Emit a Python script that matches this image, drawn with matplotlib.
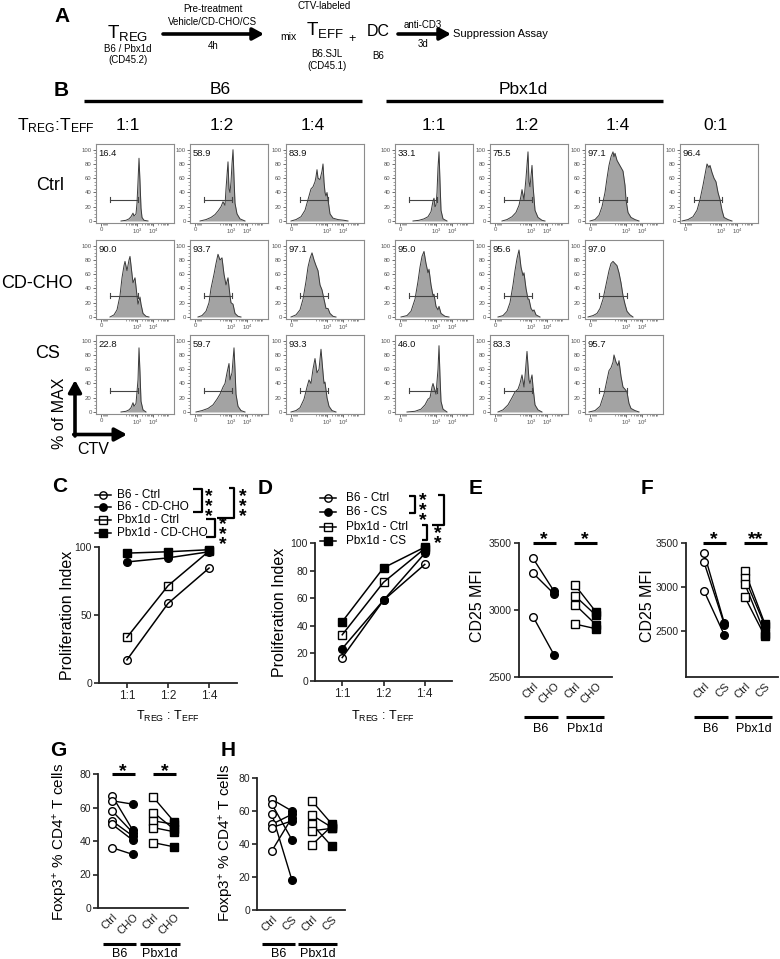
import numpy as np
import matplotlib
matplotlib.use('Agg')
import matplotlib.pyplot as plt

plt.rcParams['font.family'] = ['Liberation Sans', 'DejaVu Sans']
plt.rcParams['mathtext.fontset'] = 'custom'
plt.rcParams['mathtext.rm'] = 'Liberation Sans'
plt.rcParams['mathtext.it'] = 'Liberation Sans:italic'
plt.rcParams['mathtext.bf'] = 'Liberation Sans:bold'
plt.rcParams['mathtext.default'] = 'regular'

# ---------------- DATA ----------------
# Panel B: CTV histograms, points (channel position, % of max)
ratios_b6 = ['1:1', '1:2', '1:4']
ratios_pbx = ['1:1', '1:2', '1:4', '0:1']
treatments = ['Ctrl', 'CD-CHO', 'CS']
pct_b6_ctrl = [16.4, 58.9, 83.9]
pct_b6_cho = [90.0, 93.7, 97.1]
pct_b6_cs = [22.8, 59.7, 93.3]
pct_pbx_ctrl = [33.1, 75.5, 97.1, 96.4]
pct_pbx_cho = [95.0, 95.6, 97.0]
pct_pbx_cs = [46.0, 83.3, 95.7]
gate_range = [14, 42]
gate_level = 30

hist_b6_ctrl_11 = [(25,0),(30,1),(33,3),(35,6),(37,11),(38,7),(40,10),(41,25),(42,55),(43,88),(44,55),(45,18),(46,5),(48,1),(52,0)]
hist_b6_ctrl_12 = [(10,0),(16,2),(21,5),(25,9),(28,14),(31,20),(33,27),(35,22),(36,45),(38,83),(39,45),(40,40),(41,55),(42,80),(43,100),(44,60),(45,25),(47,10),(50,3),(55,0)]
hist_b6_ctrl_14 = [(5,0),(10,2),(15,6),(19,15),(22,30),(25,45),(27,48),(29,55),(30,62),(31,72),(32,60),(34,58),(36,70),(37,80),(38,55),(39,40),(40,35),(41,40),(42,30),(44,10),(47,4),(52,2),(58,1),(62,0)]
hist_pbx_ctrl_11 = [(18,0),(24,1),(29,3),(33,6),(36,13),(38,28),(39,32),(40,20),(41,22),(42,40),(43,75),(44,97),(45,55),(46,15),(48,3),(52,0)]
hist_pbx_ctrl_12 = [(12,0),(17,2),(22,6),(26,12),(29,22),(31,35),(32,44),(34,30),(36,60),(38,97),(39,55),(40,48),(42,78),(43,50),(45,15),(48,5),(52,1),(55,0)]
hist_pbx_ctrl_14 = [(5,0),(10,2),(14,8),(17,20),(20,40),(22,60),(24,78),(26,90),(28,97),(29,90),(30,95),(32,85),(34,80),(36,75),(38,70),(40,50),(41,30),(43,12),(46,5),(50,2),(54,0)]
hist_pbx_ctrl_01 = [(2,0),(8,2),(13,6),(17,15),(20,30),(23,50),(25,65),(27,80),(29,75),(30,78),(32,68),(34,60),(36,55),(38,40),(40,30),(42,15),(44,5),(48,2),(52,0)]

hist_b6_cho_11 = [(14,0),(18,3),(21,10),(24,30),(26,55),(28,72),(29,78),(31,65),(33,80),(34,85),(36,60),(37,48),(39,55),(41,30),(42,18),(44,28),(45,18),(47,5),(50,1),(53,0)]
hist_b6_cho_12 = [(8,0),(12,2),(16,8),(19,20),(21,40),(24,60),(26,75),(28,88),(30,80),(32,83),(34,60),(36,45),(38,55),(40,30),(41,20),(43,18),(45,5),(48,1),(51,0)]
hist_b6_cho_14 = [(5,0),(10,3),(14,10),(17,25),(20,50),(22,70),(24,82),(26,90),(28,80),(30,72),(32,65),(34,45),(36,38),(38,25),(40,12),(42,12),(44,5),(47,1),(50,0)]
hist_pbx_cho_11 = [(6,0),(12,2),(16,8),(20,25),(23,50),(25,70),(27,85),(29,92),(31,75),(33,62),(34,67),(36,45),(38,30),(39,32),(41,15),(43,10),(44,15),(46,5),(50,1),(54,0)]
hist_pbx_cho_12 = [(8,0),(13,2),(17,8),(20,20),(23,45),(25,65),(27,82),(29,94),(31,70),(33,58),(34,62),(36,40),(38,25),(39,25),(41,12),(43,8),(44,10),(46,3),(50,0)]
hist_pbx_cho_14 = [(3,0),(8,2),(12,5),(15,12),(18,25),(21,45),(24,65),(26,75),(28,78),(30,75),(32,72),(34,62),(36,48),(38,30),(40,18),(42,8),(45,3),(48,0)]

hist_b6_cs_11 = [(25,0),(30,1),(33,3),(35,6),(37,13),(38,8),(40,12),(42,45),(43,90),(44,55),(45,15),(47,3),(50,0)]
hist_b6_cs_12 = [(6,0),(12,2),(18,5),(23,10),(27,18),(30,25),(33,35),(35,40),(37,55),(39,68),(40,45),(42,55),(44,90),(45,60),(46,25),(48,8),(51,2),(55,0)]
hist_b6_cs_14 = [(5,0),(10,2),(14,6),(18,18),(21,35),(23,45),(25,40),(27,60),(29,75),(31,55),(33,60),(35,88),(37,55),(38,40),(39,42),(41,20),(43,8),(46,2),(50,0)]
hist_pbx_cs_11 = [(12,0),(20,1),(26,4),(30,10),(33,18),(35,20),(37,35),(38,40),(40,30),(41,25),(43,60),(44,93),(45,50),(46,15),(48,4),(52,0)]
hist_pbx_cs_12 = [(8,0),(13,3),(18,10),(22,20),(25,28),(28,32),(30,40),(32,52),(34,35),(35,50),(37,85),(39,45),(40,40),(42,52),(43,35),(45,10),(48,3),(52,0)]
hist_pbx_cs_14 = [(4,0),(10,2),(15,8),(19,25),(22,45),(24,58),(26,62),(28,70),(29,80),(31,70),(33,65),(34,72),(36,50),(38,35),(40,32),(42,28),(44,12),(46,5),(50,2),(54,0)]

# Panels C / D: proliferation index
ratio_labels = ['1:1', '1:2', '1:4']
c_b6_ctrl = [17, 58.5, 84.5]
c_b6_cho = [89, 92, 96.5]
c_pbx_ctrl = [33.5, 71.5, 97]
c_pbx_cho = [95.5, 96.5, 98]
legend_c = ['B6 - Ctrl', 'B6 - CD-CHO', 'Pbx1d - Ctrl', 'Pbx1d - CD-CHO']
d_b6_ctrl = [17, 58.5, 84.5]
d_b6_cs = [23.5, 58.5, 92.5]
d_pbx_ctrl = [33.5, 71.5, 96]
d_pbx_cs = [43, 82, 97]
legend_d = ['B6 - Ctrl', 'B6 - CS', 'Pbx1d - Ctrl', 'Pbx1d - CS']

# Panels E / F: CD25 MFI (paired)
e_b6_ctrl = [3385, 3275, 2950]
e_b6_cho = [3140, 3120, 2665]
e_pbx_ctrl = [3185, 3105, 3040, 2895]
e_pbx_cho = [2985, 2960, 2890, 2860]
f_b6_ctrl = [3385, 3280, 2955]
f_b6_cs = [2590, 2575, 2455]
f_pbx_ctrl = [3185, 3105, 3040, 2890]
f_pbx_cs = [2580, 2560, 2470, 2440]

# Panels G / H: Foxp3+ % CD4+ T cells (paired)
g_b6_ctrl = [67, 64, 58, 52, 50, 36]
g_b6_cho = [46.5, 62, 45, 43, 40.5, 32]
g_pbx_ctrl = [66, 57, 52, 48, 39]
g_pbx_cho = [51.5, 47, 50, 45.5, 36.5]
h_b6_ctrl = [67, 64, 58, 52, 50, 36]
h_b6_cs = [60, 42.5, 18, 58, 54, 56]
h_pbx_ctrl = [66, 57.5, 52, 48, 39.5]
h_pbx_cs = [52, 50, 38.5, 49.5, 51]

groups = ['B6', 'Pbx1d']
cats_cho = ['Ctrl', 'CHO', 'Ctrl', 'CHO']
cats_cs = ['Ctrl', 'CS', 'Ctrl', 'CS']

# ---------------- FIGURE ----------------
W, H = 780, 959
fig = plt.figure(figsize=(W / 100, H / 100), dpi=100)


def px_axes(x0, y0, x1, y1):
    return fig.add_axes([x0 / W, 1 - y1 / H, (x1 - x0) / W, (y1 - y0) / H])


# ---- Panel B histograms ----
HW, HH = 78, 79
hist_left_b6 = [96, 190, 286]
hist_left_pbx = [395, 490, 585, 680]
row_top = [144, 240, 335]
minor_x = ([6.5, 7.5, 8.5, 9.5, 10.5] + [41 - 16 * (1 - np.log10(k)) for k in range(2, 10)]
           + [41 + 16 * np.log10(k) for k in range(2, 10)] + [57 + 16 * np.log10(k) for k in range(2, 10)])


def draw_hist(x0, y0, pts, pct):
    ax = px_axes(x0, y0, x0 + HW, y0 + HH)
    xs = [p[0] for p in pts]
    ys = [p[1] for p in pts]
    ax.fill_between(xs, ys, 0, color='#a3a3a3', lw=0, zorder=1)
    ax.plot(xs, ys, color='#3a3a3a', lw=0.7, zorder=2)
    ax.set_xlim(0, HW)
    ax.set_ylim(-2.8, 108)
    ax.plot(gate_range, [gate_level, gate_level], color='#444', lw=0.8, zorder=3)
    for gx in gate_range:
        ax.plot([gx, gx], [gate_level - 3.5, gate_level + 3.5], color='#444', lw=0.8, zorder=3)
    ax.text(2.5, 94, f'{pct:.1f}', fontsize=6.8, ha='left', va='center', color='#111')
    for s in ax.spines.values():
        s.set_color('#8c8c8c')
        s.set_linewidth(0.8)
    ax.set_yticks([0, 20, 40, 60, 80, 100])
    ax.set_yticks(np.arange(0, 101, 5), minor=True)
    ax.set_xticks([5, 41, 57])
    ax.set_xticklabels(['0', '$10^3$', '$10^4$'])
    ax.set_xticks(minor_x, minor=True)
    ax.tick_params(which='major', length=2, width=0.6, color='#555', labelsize=4.3,
                   labelcolor='#555', pad=1)
    ax.tick_params(which='minor', length=1.2, width=0.4, color='#555')
    return ax


b6_rows = [(hist_b6_ctrl_11, hist_b6_ctrl_12, hist_b6_ctrl_14),
           (hist_b6_cho_11, hist_b6_cho_12, hist_b6_cho_14),
           (hist_b6_cs_11, hist_b6_cs_12, hist_b6_cs_14)]
b6_pcts = [pct_b6_ctrl, pct_b6_cho, pct_b6_cs]
pbx_rows = [(hist_pbx_ctrl_11, hist_pbx_ctrl_12, hist_pbx_ctrl_14, hist_pbx_ctrl_01),
            (hist_pbx_cho_11, hist_pbx_cho_12, hist_pbx_cho_14),
            (hist_pbx_cs_11, hist_pbx_cs_12, hist_pbx_cs_14)]
pbx_pcts = [pct_pbx_ctrl, pct_pbx_cho, pct_pbx_cs]

for r in range(3):
    for c, pts in enumerate(b6_rows[r]):
        draw_hist(hist_left_b6[c], row_top[r], pts, b6_pcts[r][c])
    for c, pts in enumerate(pbx_rows[r]):
        draw_hist(hist_left_pbx[c], row_top[r], pts, pbx_pcts[r][c])

SPC = '#222222'


def style(ax):
    for s in ['top', 'right']:
        ax.spines[s].set_visible(False)
    for s in ['left', 'bottom']:
        ax.spines[s].set_linewidth(1.3)
        ax.spines[s].set_color(SPC)
    ax.tick_params(width=1.2, length=3.5, color=SPC, labelsize=7.5, pad=1.5, labelcolor='#222')
    ax.patch.set_visible(False)


# ---- Panel C ----
x3 = np.arange(3)
axC = px_axes(99, 547, 237, 683)
style(axC)
kw = dict(color='k', lw=1.1, mew=1.0, mec='k', clip_on=False)
axC.plot(x3, c_b6_ctrl, marker='o', mfc='none', ms=5.5, **kw)
axC.plot(x3, c_b6_cho, marker='o', mfc='k', ms=5.5, **kw)
axC.plot(x3, c_pbx_ctrl, marker='s', mfc='none', ms=5.2, **kw)
axC.plot(x3, c_pbx_cho, marker='s', mfc='k', ms=5.2, **kw)
axC.set_xlim(-0.68, 2.68)
axC.set_ylim(0, 100)
axC.set_yticks([0, 50, 100])
axC.set_xticks(x3)
axC.set_xticklabels(ratio_labels, fontsize=8.5)

# ---- Panel D ----
axD = px_axes(315, 543, 452, 681)
style(axD)
axD.plot(x3, d_b6_ctrl, marker='o', mfc='none', ms=5.5, **kw)
axD.plot(x3, d_b6_cs, marker='o', mfc='k', ms=5.5, **kw)
axD.plot(x3, d_pbx_ctrl, marker='s', mfc='none', ms=5.2, **kw)
axD.plot(x3, d_pbx_cs, marker='s', mfc='k', ms=5.2, **kw)
axD.set_xlim(-0.66, 2.66)
axD.set_ylim(0, 100)
axD.set_yticks([0, 20, 40, 60, 80, 100])
axD.set_xticks(x3)
axD.set_xticklabels(ratio_labels, fontsize=8.5)


def paired(ax, xs, ctrl, trt, marker, ms):
    for a, b in zip(ctrl, trt):
        ax.plot(xs, [a, b], color='k', lw=1.0, zorder=2, clip_on=False)
    ax.plot([xs[0]] * len(ctrl), ctrl, ls='none', marker=marker, mfc='white', mec='k',
            mew=1.0, ms=ms, zorder=3, clip_on=False)
    ax.plot([xs[1]] * len(trt), trt, ls='none', marker=marker, mfc='k', mec='k',
            mew=1.0, ms=ms, zorder=3, clip_on=False)


def paired_panel(rect, xlim, ylim, yticks, b6c, b6t, pbc, pbt, cats):
    ax = px_axes(*rect)
    style(ax)
    paired(ax, [0, 1], b6c, b6t, 'o', 5.5)
    paired(ax, [2, 3], pbc, pbt, 's', 5.5)
    ax.set_xlim(*xlim)
    ax.set_ylim(*ylim)
    ax.set_yticks(yticks)
    ax.set_xticks([0, 1, 2, 3])
    ax.set_xticklabels(cats, rotation=45, ha='right', rotation_mode='anchor', fontsize=8)
    ax.tick_params(axis='x', length=0, pad=3)
    return ax


axE = paired_panel((519, 543, 612, 677), (-0.67, 3.76), (2500, 3500), [2500, 3000, 3500],
                   e_b6_ctrl, e_b6_cho, e_pbx_ctrl, e_pbx_cho, cats_cho)
axF = paired_panel((686, 543, 778, 677), (-0.89, 3.64), (1980, 3500), [2500, 3000, 3500],
                   f_b6_ctrl, f_b6_cs, f_pbx_ctrl, f_pbx_cs, cats_cs)
axG = paired_panel((98, 774, 188, 908), (-0.68, 3.67), (0, 80), [0, 20, 40, 60, 80],
                   g_b6_ctrl, g_b6_cho, g_pbx_ctrl, g_pbx_cho, cats_cho)
axH = paired_panel((257, 778, 345, 910), (-0.75, 3.65), (0, 80), [0, 20, 40, 60, 80],
                   h_b6_ctrl, h_b6_cs, h_pbx_ctrl, h_pbx_cs, cats_cs)

# ---------------- overlay for annotations ----------------
ov = fig.add_axes([0, 0, 1, 1], zorder=10)
ov.set_xlim(0, W)
ov.set_ylim(H, 0)
ov.axis('off')


def T(x, y, s, **k):
    k.setdefault('ha', 'center')
    k.setdefault('va', 'center')
    ov.text(x, y, s, **k)


def L(xs, ys, lw=1.5, color='k'):
    ov.plot(xs, ys, color=color, lw=lw, solid_capstyle='butt', clip_on=False)


def stars(x, y_top, n, spacing=9.0, fs=14):
    """n vertically stacked stars; y_top = pixel centre of the first star."""
    em = fs * 100 / 72
    ls = spacing / em
    y_last = y_top + (n - 1) * spacing
    ov.text(x, y_last + 0.58 * em, '\n'.join(['*'] * n), ha='center', va='baseline',
            fontsize=fs, fontweight='bold', linespacing=ls, multialignment='center')


def star_row(x, y, s, fs=14):
    em = fs * 100 / 72
    ov.text(x, y + 0.58 * em, s, ha='center', va='baseline', fontsize=fs, fontweight='bold')


def arrow(x0, y0, x1, y1, lw=2.6, ms=12):
    ov.annotate('', xy=(x1, y1), xytext=(x0, y0),
                arrowprops=dict(arrowstyle='-|>,head_length=0.55,head_width=0.3', lw=lw,
                                color='k', shrinkA=0, shrinkB=0, mutation_scale=ms))


def panel_letter(x, y, s):
    T(x, y, s, fontsize=15, fontweight='heavy')


# Panel A
panel_letter(62, 16, 'A')
T(128, 33, r'T$_{REG}$', fontsize=13.5)
T(128, 49, 'B6 / Pbx1d', fontsize=7)
T(128, 60, '(CD45.2)', fontsize=7)
T(213, 9, 'Pre-treatment', fontsize=7)
T(213, 22, 'Vehicle/CD-CHO/CS', fontsize=7)
arrow(163, 34, 264, 34)
T(213, 46, '4h', fontsize=7)
T(288, 37, 'mix', fontsize=7.5)
T(324, 6, 'CTV-labeled', fontsize=7)
T(325, 30, r'T$_{EFF}$', fontsize=13.5)
T(327, 54, 'B6.SJL', fontsize=7)
T(327, 66, '(CD45.1)', fontsize=7)
T(352, 39, '+', fontsize=9)
T(378, 32, 'DC', fontsize=11.5)
T(378, 56, 'B6', fontsize=7)
T(423, 25, 'anti-CD3', fontsize=7)
arrow(398, 34, 451, 34)
T(423, 44, '3d', fontsize=7)
T(453, 34, 'Suppression Assay', fontsize=8, ha='left')

# Panel B headers
panel_letter(61, 90, 'B')
L([84, 362], [101, 101], lw=2.4)
L([386, 663], [101, 101], lw=2.4)
T(220, 90, 'B6', fontsize=12.5)
T(523, 90, 'Pbx1d', fontsize=12.5)
T(56, 126, r'T$_{REG}$:T$_{EFF}$', fontsize=12.5)
for xr, lab in zip([128, 222, 313], ratios_b6):
    T(xr, 125, lab, fontsize=12.5)
for xr, lab in zip([434, 527, 618, 715], ratios_pbx):
    T(xr, 125, lab, fontsize=12.5)
for yr, xr, lab in zip([185, 284, 353], [50, 37, 48], treatments):
    T(xr, yr, lab, fontsize=13)
T(60, 413, '% of MAX', fontsize=11.5, rotation=90)
arrow(75, 436, 75, 380, lw=2.6, ms=13)
arrow(73.7, 434.5, 127, 434.5, lw=2.6, ms=13)
T(93, 449, 'CTV', fontsize=11.5)

# Panel C annotations
panel_letter(60, 487, 'C')
T(68, 615, 'Proliferation Index', fontsize=11.5, rotation=90)
T(168, 716, r'T$_{REG}$ : T$_{EFF}$', fontsize=9)
for yy, lab, mk, fc in zip([495, 507, 520, 533], legend_c, ['o', 'o', 's', 's'],
                           ['none', 'k', 'none', 'k']):
    ov.plot([95, 111], [yy, yy], color='k', lw=1.1, clip_on=False)
    ov.plot([103], [yy], marker=mk, mfc=fc, mec='k', mew=1.0, ms=5.3, clip_on=False)
    T(117, yy, lab, fontsize=8.5, ha='left')
L([193, 202, 202, 193], [489, 489, 512, 512], lw=1.6)
stars(209, 492, 3)
L([206, 215, 215, 206], [519, 519, 537, 537], lw=1.6)
stars(223, 520, 3)
L([229, 234, 234, 217], [488, 488, 518, 518], lw=1.6)
stars(243, 492, 3)

# Panel D annotations
panel_letter(265, 488, 'D')
T(280, 612, 'Proliferation Index', fontsize=11.5, rotation=90)
T(383, 716, r'T$_{REG}$ : T$_{EFF}$', fontsize=9)
for yy, lab, mk, fc in zip([498, 512, 527, 541], legend_d, ['o', 'o', 's', 's'],
                           ['none', 'k', 'none', 'k']):
    ov.plot([320, 336], [yy, yy], color='k', lw=1.1, clip_on=False)
    ov.plot([328], [yy], marker=mk, mfc=fc, mec='k', mew=1.0, ms=5.3, clip_on=False)
    T(346, yy, lab, fontsize=8.5, ha='left')
L([409, 415, 415, 409], [496, 496, 513, 513], lw=1.6)
stars(423, 496, 3)
L([438, 444, 444, 432], [495, 495, 525, 525], lw=1.6)
L([422, 427, 427, 422], [525, 525, 540, 540], lw=1.6)
stars(438, 528, 2)

# Panels E / F
panel_letter(476, 488, 'E')
panel_letter(647, 488, 'F')
T(478, 606, 'CD25 MFI', fontsize=11.5, rotation=90)
T(647, 606, 'CD25 MFI', fontsize=11.5, rotation=90)
L([533, 556], [543, 543], lw=2.2)
star_row(544, 533, '*')
L([574, 597], [543, 543], lw=2.2)
star_row(585, 533, '*')
L([703, 726], [543, 543], lw=2.2)
star_row(714, 533, '*')
L([744, 767], [543, 543], lw=2.2)
star_row(755.5, 533, '**')
for (x0, x1), g in zip([(524, 558), (566, 604)], groups):
    L([x0, x1], [717, 717], lw=2.2)
    T((x0 + x1) / 2, 729, g, fontsize=9)
for (x0, x1), g in zip([(694, 728), (735, 772)], groups):
    L([x0, x1], [717, 717], lw=2.2)
    T((x0 + x1) / 2, 729, g, fontsize=9)

# Panels G / H
panel_letter(58, 750, 'G')
panel_letter(228, 750, 'H')
T(60, 842, r'Foxp3$^{+}$ % CD4$^{+}$ T cells', fontsize=11, rotation=90)
T(227, 843, r'Foxp3$^{+}$ % CD4$^{+}$ T cells', fontsize=11, rotation=90)
L([112, 135], [774, 774], lw=2.2)
star_row(123, 765, '*')
L([153, 176], [774, 774], lw=2.2)
star_row(165, 765, '*')
for (x0, x1), g in zip([(103, 136), (140, 180)], groups):
    L([x0, x1], [944, 944], lw=2.2)
    T((x0 + x1) / 2, 954, g, fontsize=9)
for (x0, x1), g in zip([(262, 295), (298, 337)], groups):
    L([x0, x1], [944, 944], lw=2.2)
    T((x0 + x1) / 2, 954, g, fontsize=9)

fig.savefig('out.png', dpi=100)
